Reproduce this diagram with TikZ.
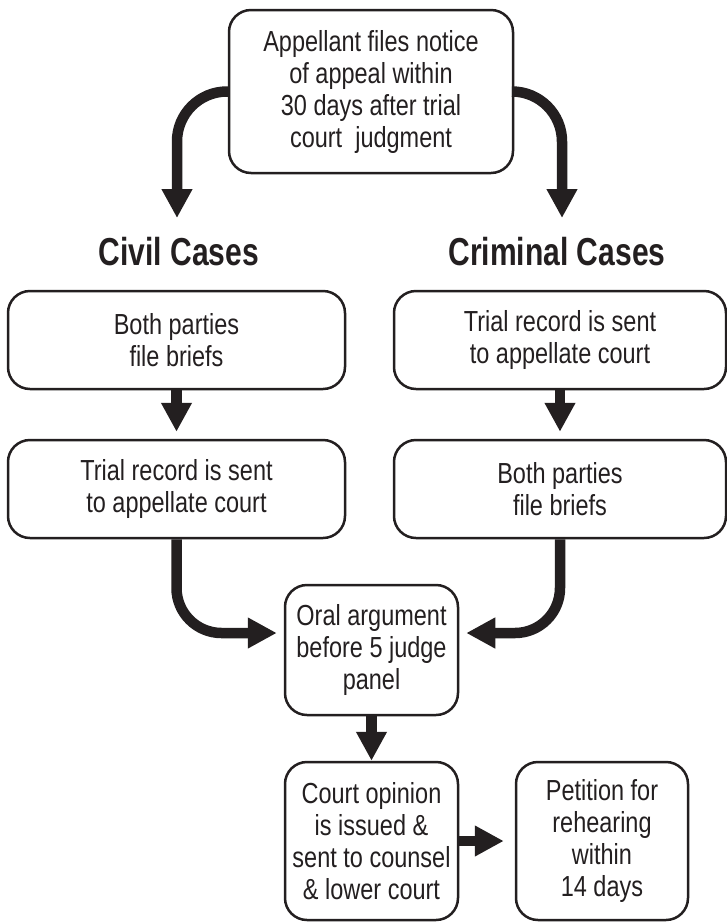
\documentclass[tikz,border=0pt]{standalone}
\usepackage{fontspec}
\setmainfont{Liberation Sans}
\newfontfamily\bodyfont[FakeStretch=0.81]{Liberation Sans}
\newfontfamily\headfont[FakeStretch=0.77]{Liberation Sans}
\usetikzlibrary{arrows.meta,calc}
\definecolor{ink}{HTML}{231F20}
\begin{document}
\begin{tikzpicture}[x=1pt,y=-1pt,
  box/.style={draw=ink, line width=2.5pt, rounded corners=22pt, inner sep=0pt, align=center, text=ink, font=\bodyfont\fontsize{29}{32}\selectfont},
  head/.style={text=ink, font=\headfont\bfseries\fontsize{39}{42}\selectfont, inner sep=0pt},
  flow/.style={draw=ink, line width=10.5pt, -{Triangle[width=29pt,length=29pt]}},
]
\useasboundingbox (0,0) rectangle (727,922);

\node[box, minimum width=284pt, minimum height=163pt] (top) at (371,91.5) {Appellant files notice\\of appeal within\\30 days after trial\\court\ \ judgment};
\node[head] (civil) at (179,252) {Civil Cases};
\node[head] (crim) at (557,252) {Criminal Cases};

\node[box, minimum width=337pt, minimum height=98pt] (civA) at (176.5,340) {Both parties\\file briefs};
\node[box, minimum width=332pt, minimum height=98pt] (crimA) at (560,340) {Trial record is sent\\to appellate court};
\node[box, minimum width=337pt, minimum height=98pt] (civB) at (176.5,489) {Trial record is sent\\to appellate court};
\node[box, minimum width=332pt, minimum height=98pt] (crimB) at (560,489) {Both parties\\file briefs};

\node[box, minimum width=173pt, minimum height=130pt] (oral) at (371.5,650) {Oral argument\\before 5 judge\\panel};
\node[box, minimum width=173pt, minimum height=158pt] (opin) at (371.5,841) {Court opinion\\is issued \&\\sent to counsel\\\& lower court};
\node[box, minimum width=172pt, minimum height=158pt] (pet) at (602,841) {Petition for\\rehearing\\within\\14 days};

\coordinate (tl) at (177,218);
\coordinate (tr) at (562,218);
\draw[flow, rounded corners=50pt] (top.west) -| (tl);
\draw[flow, rounded corners=50pt] (top.east) -| (tr);
\draw[flow] (civA.south) -- ([yshift=7pt]civB.north);
\draw[flow] (crimA.south) -- ([yshift=7pt]crimB.north);
\draw[flow, rounded corners=45pt] (civB.south) |- ([xshift=-7pt,yshift=17pt]oral.west);
\draw[flow, rounded corners=45pt] (crimB.south) |- ([xshift=7pt,yshift=17pt]oral.east);
\draw[flow] (oral.south) -- (opin.north);
\draw[flow] (opin.east) -- ([xshift=-11pt]pet.west);
\end{tikzpicture}
\end{document}
